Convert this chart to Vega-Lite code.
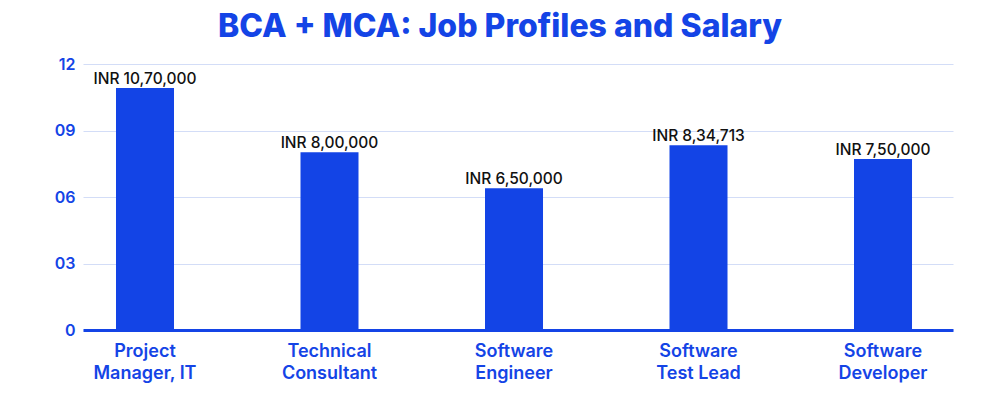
{
  "$schema": "https://vega.github.io/schema/vega-lite/v6.json",
  "width": 870,
  "height": 266,
  "autosize": {"type": "none"},
  "padding": {"left": 83, "top": 64, "right": 47, "bottom": 71},
  "background": "white",
  "title": {
    "text": "BCA + MCA: Job Profiles and Salary",
    "font": "Inter",
    "fontSize": 32,
    "fontWeight": 800,
    "color": "#1444e6",
    "anchor": "middle",
    "baseline": "alphabetic",
    "offset": -13,
    "dx": -18
  },
  "data": {
    "values": [
      {"job": "Project Manager, IT", "salary": 10.92, "label": "INR 10,70,000"},
      {"job": "Technical Consultant", "salary": 8.02, "label": "INR 8,00,000"},
      {"job": "Software Engineer", "salary": 6.39, "label": "INR 6,50,000"},
      {"job": "Software Test Lead", "salary": 8.34, "label": "INR 8,34,713"},
      {"job": "Software Developer", "salary": 7.71, "label": "INR 7,50,000"}
    ]
  },
  "encoding": {
    "x": {
      "field": "job",
      "type": "nominal",
      "sort": null,
      "scale": {"paddingInner": 0.6856, "paddingOuter": 0.2005, "align": 0.446},
      "axis": {
        "title": null,
        "labelAngle": 0,
        "labelExpr": "[substring(datum.label,0,indexof(datum.label,' ')), substring(datum.label, indexof(datum.label,' ')+1)]",
        "labelFont": "Inter",
        "labelFontSize": 18,
        "labelFontWeight": 600,
        "labelColor": "#1444e6",
        "labelLineHeight": 22,
        "labelPadding": 12,
        "ticks": false,
        "domainColor": "#1444e6",
        "domainWidth": 3,
        "grid": false
      }
    },
    "y": {
      "field": "salary",
      "type": "quantitative",
      "scale": {"domain": [0, 12], "nice": false},
      "axis": {
        "title": null,
        "values": [0, 3, 6, 9, 12],
        "labelExpr": "datum.value == 0 ? '0' : (datum.value < 10 ? '0' + datum.value : '' + datum.value)",
        "labelFont": "Inter",
        "labelFontSize": 16,
        "labelFontWeight": 600,
        "labelColor": "#1444e6",
        "labelPadding": 8,
        "ticks": false,
        "domain": false,
        "gridColor": "#d3ddf7",
        "gridWidth": 1
      }
    }
  },
  "layer": [
    {"mark": {"type": "bar", "color": "#1344e6"}},
    {
      "mark": {
        "type": "text",
        "baseline": "alphabetic",
        "dy": -4,
        "font": "Inter",
        "fontSize": 15.5,
        "fontWeight": 500,
        "color": "#111111"
      },
      "encoding": {"text": {"field": "label"}}
    }
  ],
  "config": {"view": {"stroke": null}}
}
